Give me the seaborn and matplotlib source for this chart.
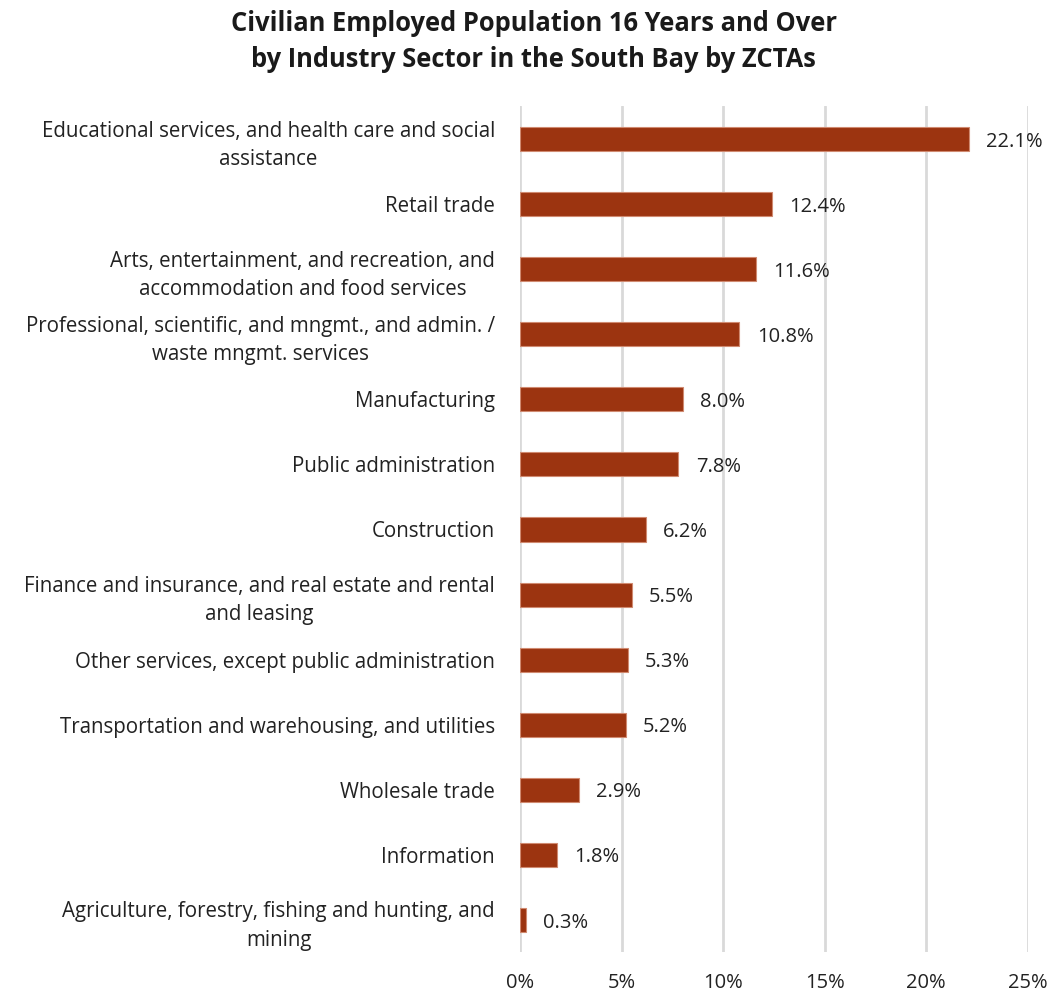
import matplotlib
matplotlib.use("Agg")
import matplotlib.pyplot as plt
import seaborn as sns
import pandas as pd

# data
sectors = [
    "Educational services, and health care and social\nassistance",
    "Retail trade",
    "Arts, entertainment, and recreation, and\naccommodation and food services",
    "Professional, scientific, and mngmt., and admin. /\nwaste mngmt. services",
    "Manufacturing",
    "Public administration",
    "Construction",
    "Finance and insurance, and real estate and rental\nand leasing",
    "Other services, except public administration",
    "Transportation and warehousing, and utilities",
    "Wholesale trade",
    "Information",
    "Agriculture, forestry, fishing and hunting, and\nmining",
]
shares = [22.1, 12.4, 11.6, 10.8, 8.0, 7.8, 6.2, 5.5, 5.3, 5.2, 2.9, 1.8, 0.3]
xticks = [0, 5, 10, 15, 20, 25]

df = pd.DataFrame({"sector": sectors, "share": shares})

sns.set_theme(style="white")
plt.rcParams["font.family"] = ["Open Sans", "DejaVu Sans"]

bar_color = "#9C3410"
grid_color = "#D9D9D9"
txt = "#222222"

fig = plt.figure(figsize=(10.51, 9.96), dpi=100)
ax = fig.add_axes([0.4948, 0.0437, 0.4832, 0.8494])

sns.barplot(data=df, x="share", y="sector", color=bar_color, width=0.37,
            edgecolor="#D08A70", linewidth=0.8, saturation=1, ax=ax, zorder=3)

ax.set_xlim(0, 25)
ax.set_xticks(xticks)
ax.set_xticklabels([f"{t}%" for t in xticks], fontsize=14.5, color=txt)
ax.tick_params(axis="x", length=0, pad=15)
ax.tick_params(axis="y", length=0, pad=18)
for lbl in ax.get_yticklabels():
    lbl.set_fontsize(14.8)
    lbl.set_color(txt)
    lbl.set_horizontalalignment("right")
    lbl.set_multialignment("center")
    lbl.set_linespacing(1.45)

ax.grid(axis="x", color=grid_color, linewidth=2, zorder=0)
ax.grid(axis="y", visible=False)
ax.set_axisbelow(True)
for s in ax.spines.values():
    s.set_visible(False)
ax.set_xlabel("")
ax.set_ylabel("")

for i, v in enumerate(shares):
    ax.text(v + 0.85, i + 0.04, f"{v:.1f}%", va="center", ha="left",
            fontsize=14.5, color=txt)

fig.suptitle("Civilian Employed Population 16 Years and Over\n"
             "by Industry Sector in the South Bay by ZCTAs",
             fontsize=18.4, fontweight="bold", color="#1a1a1a",
             x=0.508, y=0.99, linespacing=1.45)

fig.savefig("out.png", dpi=100)
